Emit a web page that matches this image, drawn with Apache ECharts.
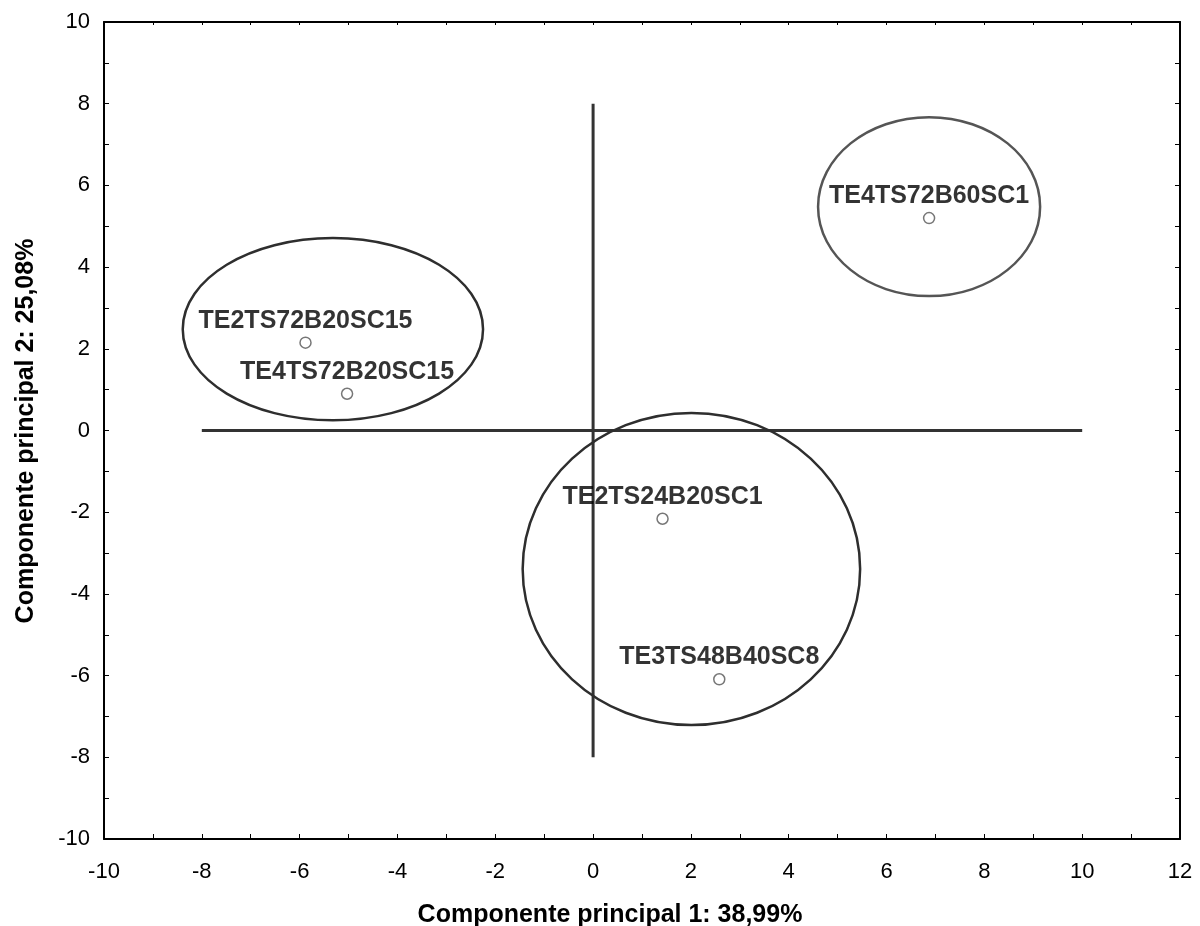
<!DOCTYPE html>
<html lang="pt">
<head>
    <meta charset="UTF-8">
    <title>Componentes principais</title>
    <script type="text/javascript" src="https://cdn.jsdelivr.net/npm/echarts@6/dist/echarts.min.js"></script>
    <style>
        html, body { margin: 0; padding: 0; background: #fff; }
        #chart { width: 1200px; height: 926px; }
    </style>
</head>
<body>
<div id="chart"></div>

<script type="text/javascript">
    // amostras: nome, componente 1, componente 2
    var names = ['TE4TS72B60SC1', 'TE2TS72B20SC15', 'TE4TS72B20SC15', 'TE2TS24B20SC1', 'TE3TS48B40SC8'];
    var pc1 = [6.87, -5.88, -5.03, 1.42, 2.58];
    var pc2 = [5.20, 2.15, 0.90, -2.16, -6.09];

    // grupos (elipses): centro x, centro y, raio x, raio y
    var ellCx = [-5.32, 6.87, 2.01];
    var ellCy = [2.48, 5.48, -3.39];
    var ellRx = [3.07, 2.27, 3.45];
    var ellRy = [2.23, 2.19, 3.82];

    // eixos de referencia
    var hLine = [[-8, 0], [10, 0]];
    var vLine = [[0, -8], [0, 8]];

    var ellColors = ['#2e2e2e', '#555555', '#2e2e2e'];
    var font = 'Liberation Sans, Arial, sans-serif';

    var points = [];
    for (var i = 0; i < names.length; i++) {
        points.push({ name: names[i], value: [pc1[i], pc2[i]] });
    }
    var ellipses = [];
    for (var j = 0; j < ellCx.length; j++) {
        ellipses.push([ellCx[j], ellCy[j], ellRx[j], ellRy[j]]);
    }

    var myChart = echarts.init(document.getElementById('chart'));

    var tickCommon = { show: true, inside: true, length: 5, lineStyle: { color: '#000', width: 1 } };
    var minorCommon = { show: true, splitNumber: 2, length: 5, lineStyle: { color: '#000', width: 1 } };

    myChart.setOption({
        animation: false,
        grid: { left: 104, right: 20, top: 22, bottom: 87 },
        xAxis: [
            {
                type: 'value', min: -10, max: 12, interval: 2,
                axisLine: { show: true, onZero: false, lineStyle: { color: '#000', width: 2 } },
                axisTick: tickCommon,
                minorTick: minorCommon,
                splitLine: { show: false },
                axisLabel: { color: '#000', fontSize: 22, fontFamily: font, margin: 22 }
            },
            {
                type: 'value', position: 'top', min: -10, max: 12, interval: 2,
                axisLine: { show: true, onZero: false, lineStyle: { color: '#000', width: 2 } },
                axisTick: { show: true, inside: true, length: 3, lineStyle: { color: '#000' } },
                minorTick: { show: true, splitNumber: 2, length: 3, lineStyle: { color: '#000' } },
                splitLine: { show: false },
                axisLabel: { show: false }
            }
        ],
        yAxis: [
            {
                type: 'value', min: -10, max: 10, interval: 2,
                axisLine: { show: true, onZero: false, lineStyle: { color: '#000', width: 2 } },
                axisTick: tickCommon,
                minorTick: minorCommon,
                splitLine: { show: false },
                axisLabel: { color: '#000', fontSize: 22, fontFamily: font, margin: 14 }
            },
            {
                type: 'value', position: 'right', min: -10, max: 10, interval: 2,
                axisLine: { show: true, onZero: false, lineStyle: { color: '#000', width: 2 } },
                axisTick: tickCommon,
                minorTick: minorCommon,
                splitLine: { show: false },
                axisLabel: { show: false }
            }
        ],
        graphic: [
            {
                type: 'text', x: 610, y: 915,
                style: {
                    text: 'Componente principal 1: 38,99%', fill: '#000',
                    font: 'bold 25px ' + font, textAlign: 'center', textVerticalAlign: 'middle'
                }
            },
            {
                type: 'text', x: 26, y: 431, rotation: Math.PI / 2,
                style: {
                    text: 'Componente principal 2: 25,08%', fill: '#000',
                    font: 'bold 25px ' + font, textAlign: 'center', textVerticalAlign: 'middle'
                }
            }
        ],
        series: [
            {
                type: 'line', data: hLine, symbol: 'none', silent: true,
                lineStyle: { color: '#333', width: 3 }, z: 1
            },
            {
                type: 'line', data: vLine, symbol: 'none', silent: true,
                lineStyle: { color: '#333', width: 3 }, z: 1
            },
            {
                type: 'custom', data: ellipses, silent: true, z: 2,
                encode: { x: 0, y: 1 },
                renderItem: function (params, api) {
                    var c = api.coord([api.value(0), api.value(1)]);
                    var s = api.size([api.value(2), api.value(3)]);
                    return {
                        type: 'ellipse',
                        shape: { cx: c[0], cy: c[1], rx: s[0], ry: s[1] },
                        style: { fill: 'none', stroke: ellColors[params.dataIndex], lineWidth: 2.5 }
                    };
                }
            },
            {
                type: 'scatter', data: points, z: 5,
                symbol: 'circle', symbolSize: 11,
                itemStyle: { color: '#fff', borderColor: '#555', borderWidth: 1.5 },
                label: {
                    show: true, position: 'top', distance: 3,
                    formatter: '{b}', color: '#000',
                    fontSize: 25, fontWeight: 'bold', fontFamily: font
                }
            }
        ]
    });
</script>

</body>
</html>
